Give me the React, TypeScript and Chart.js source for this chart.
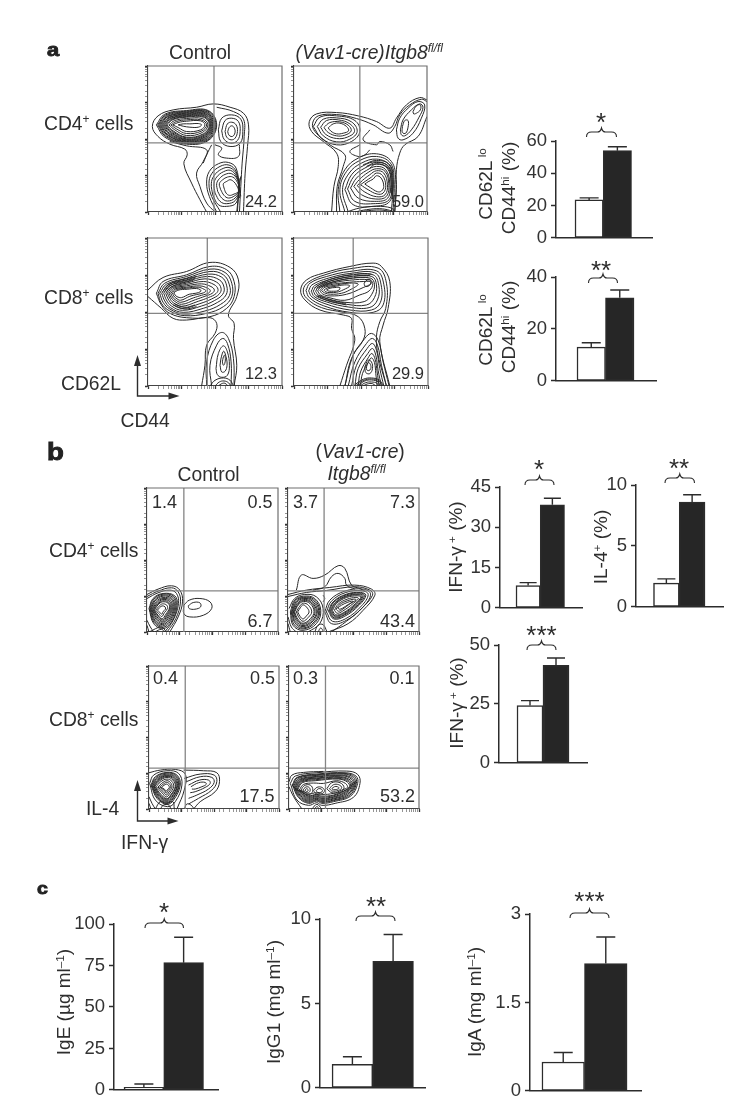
import React, { useEffect, useRef } from "react";
import { Chart, registerables } from "chart.js";

Chart.register(...registerables);
Chart.defaults.font.family = "'Liberation Sans', Arial, sans-serif";

const FONT = "'Liberation Sans', Arial, sans-serif";

// ---- bar values (upper whisker given as the value read at the cap) ----
const groups = ["Control", "(Vav1-cre)Itgb8fl/fl"];
const a1Ticks = [0, 20, 40, 60];
const a1Values = [23.5, 54];
const a1Caps = [24.8, 56.4];
const a2Ticks = [0, 20, 40];
const a2Values = [13, 32];
const a2Caps = [14.7, 35];
const b1Ticks = [0, 15, 30, 45];
const b1Values = [8.3, 38.4];
const b1Caps = [9.4, 40.8];
const b2Ticks = [0, 5, 10];
const b2Values = [1.95, 8.6];
const b2Caps = [2.3, 9.2];
const b3Ticks = [0, 25, 50];
const b3Values = [24.3, 41.4];
const b3Caps = [26.4, 44.5];
const c1Ticks = [0, 25, 50, 75, 100];
const c1Values = [1.5, 76.7];
const c1Caps = [3.6, 92];
const c2Ticks = [0, 5, 10];
const c2Values = [1.4, 7.5];
const c2Caps = [1.84, 9.08];
const c3Ticks = [0, 1.5, 3];
const c3Values = [0.49, 2.16];
const c3Caps = [0.65, 2.61];

const a1Contours = [
  [530,547,510,510,485,460,462,402,472,375,465,358,420,343,385,320,368,290,385,258,430,240,500,232,550,222,600,232,640,250,655,285,652,350,645,430,640,547],
  [555,547,530,520,510,470,500,430,520,395,530,360,470,348,420,335],
  [560,232,610,245,640,268,642,320,636,400,632,470,628,547],
  [380,285,405,253,470,242,535,242,560,285,535,332,470,343,405,322,380,285],
  [384,285,408,255,470,244,534,244,558,285,534,330,470,341,408,320,384,285],
  [387,285,410,257,470,246,532,246,555,285,532,328,470,339,410,318,387,285],
  [390,285,413,259,470,248,530,248,552,285,530,326,470,337,413,316,390,285],
  [393,285,415,260,470,250,529,250,550,285,529,324,470,335,415,315,393,285],
  [396,285,418,262,470,252,527,252,548,285,527,322,470,333,418,313,396,285],
  [399,285,420,263,470,254,526,254,546,285,526,320,470,331,420,311,399,285],
  [402,285,423,265,470,256,524,256,544,285,524,318,470,329,423,309,402,285],
  [405,285,425,266,470,258,523,258,542,285,523,316,470,327,425,307,405,285],
  [408,285,428,268,470,260,521,260,540,285,521,314,470,324,428,305,408,285],
  [411,285,430,269,470,262,520,262,538,285,520,312,470,322,430,303,411,285],
  [417,285,435,272,470,266,517,266,534,285,517,308,470,317,435,300,417,285],
  [423,285,440,275,470,270,514,270,530,285,514,304,470,311,440,297,423,285],
  [429,285,445,278,470,274,512,273,525,285,512,300,470,305,445,293,429,285],
  [445,285,460,282,480,282,505,281,515,285,505,292,480,292,460,289,445,285],
  [565,300,575,265,605,255,632,268,638,305,630,340,600,350,572,335,565,300],
  [575,303,585,272,605,265,625,275,630,305,622,332,602,340,582,328,575,303],
  [585,305,592,282,605,277,618,285,622,305,615,325,603,330,590,322,585,305],
  [593,305,598,292,606,288,613,295,615,307,610,318,603,320,596,315,593,305],
  [628,345,625,380,590,385,565,375,575,355,555,345],
  [545,345,530,375,520,400],
  [560,547,538,500,530,460,538,425,565,402,595,398,618,415,625,470,622,547],
  [572,547,545,500,537,462,545,432,570,410,597,406,618,425,626,470,620,547],
  [548,495,544,462,552,438,575,418,600,414,620,435,627,475,618,520,590,530,565,525,548,495],
  [555,490,552,462,560,442,580,426,602,422,620,442,628,478,616,512,590,522,570,515,555,490],
  [563,485,560,462,568,447,585,434,605,432,622,450,628,480,615,505,592,514,575,505,563,485],
  [572,480,568,462,578,450,592,442,608,442,622,458,628,482,614,498,595,505,582,497,572,480],
  [582,475,580,462,590,455,600,450,610,455,620,468,625,485,612,493,598,497,588,490,582,475],
  [632,440,628,470,632,500],
  [630,445,625,470,628,505],
];
const a2Contours = [
  [905,547,912,470,925,410,920,370,880,335,845,305,838,275,860,252,920,248,985,258,1040,275,1080,295,1100,265,1130,225,1170,203,1192,210],
  [1192,260,1165,320,1125,345,1110,370,1100,420,1100,480,1095,547],
  [920,547,922,470,940,410,945,375,900,345,855,305,848,280,865,258,920,254,980,266,1030,285,1075,310,1095,290,1110,255,1140,225,1175,208,1192,215],
  [1100,300,1110,265,1135,235,1165,215,1185,225,1175,265,1150,310,1120,330,1105,325,1100,300],
  [1112,300,1120,270,1145,240,1170,222,1180,232,1168,262,1145,300,1125,318,1115,315,1112,300],
  [1150,245,1160,228,1172,225,1172,240,1160,250,1152,252,1150,245],
  [1118,290,1125,272,1135,272,1135,292,1128,310,1118,308,1118,290],
  [850,290,870,262,920,258,975,272,990,305,965,335,920,345,875,325,850,290],
  [862,290,880,268,920,264,965,276,982,305,960,328,920,336,880,318,862,290],
  [872,292,890,272,925,270,960,282,974,305,952,322,920,326,888,314,872,292],
  [882,293,900,278,930,276,955,286,964,303,945,316,920,318,895,308,882,293],
  [895,294,910,282,930,280,950,290,956,303,940,310,920,312,903,304,895,294],
  [930,547,925,480,945,420,985,385,1040,372,1085,395,1098,450,1095,547],
  [945,547,930,480,950,425,990,392,1040,380,1082,400,1093,450,1090,547],
  [955,547,938,480,958,430,995,400,1040,388,1078,405,1090,450,1085,547],
  [1000,405,1040,392,1080,405,1090,450,1087,500],
  [1010,410,1040,398,1077,410,1087,450,1085,495],
  [1020,415,1040,402,1075,415,1084,455,1081,490],
  [945,480,965,435,1000,408,1040,396,1075,410,1087,455,1080,515,1030,530,970,525,945,480],
  [953,478,972,440,1005,415,1040,403,1072,415,1084,458,1078,510,1030,522,975,515,953,478],
  [962,475,980,445,1010,422,1040,410,1068,420,1080,460,1074,505,1035,515,985,505,962,475],
  [972,470,988,450,1015,428,1040,417,1066,425,1077,462,1070,500,1038,508,995,495,972,470],
  [982,468,998,452,1020,435,1040,423,1062,430,1073,465,1066,495,1040,501,1005,487,982,468],
  [992,465,1006,455,1025,442,1040,430,1058,437,1068,468,1060,490,1042,493,1015,480,992,465],
  [1005,463,1015,456,1030,448,1040,438,1054,445,1062,470,1055,484,1043,486,1022,474,1005,463],
  [950,547,990,535,1040,530,1085,535,1095,547],
  [975,547,1010,540,1050,537,1080,542,1090,547],
  [985,547,1015,543,1050,541,1075,544,1085,547],
  [990,345,960,365,985,380,1005,375,1020,360],
  [1020,300,1000,330,1040,345,1050,335,1080,345,1090,365],
];
const a3Contours = [
  [612,482,620,420,610,340,612,295,595,270,620,215,625,165,600,128,540,113,470,140,400,158,355,195],
  [355,215,395,250,430,280,470,285,540,278,560,295,555,325,530,360,525,420,515,482],
  [380,205,400,170,470,150,540,125,590,135,612,170,612,215,590,250,540,275,470,278,420,265,395,240,380,205],
  [385,205,405,175,470,155,540,133,585,143,605,175,605,215,580,245,530,265,465,272,420,258,395,235,385,205],
  [390,205,410,178,470,160,540,140,580,150,598,180,598,212,572,238,525,258,460,267,420,252,400,232,390,205],
  [396,205,415,180,470,165,535,148,575,157,590,183,588,210,563,232,520,250,460,262,422,248,405,228,396,205],
  [402,205,418,183,470,170,530,155,568,165,582,187,578,208,553,227,515,243,458,256,425,243,410,225,402,205],
  [408,205,424,186,470,175,525,162,560,172,573,190,568,207,545,222,510,236,458,250,428,238,415,222,408,205],
  [413,205,428,188,470,179,520,170,552,179,564,193,558,206,535,218,505,229,455,244,430,233,420,220,413,205],
  [418,205,432,190,470,183,515,177,543,185,553,195,547,205,525,214,497,224,455,238,433,228,424,218,418,205],
  [423,205,436,192,470,187,510,183,533,190,541,197,535,205,515,211,490,219,453,232,436,224,428,216,423,205],
  [428,204,440,194,470,190,505,187,522,193,528,198,520,204,500,209,480,214,452,226,438,219,432,213,428,204],
  [432,204,444,196,472,193,500,191,512,195,512,200,498,205,478,208,455,218,441,215,436,210,432,204],
  [399,200,420,177,468,162,500,155],
  [405,200,425,180,468,167,495,161],
  [410,200,430,183,468,172,490,167],
  [430,240,465,252,500,245],
  [433,236,465,247,495,240],
  [530,482,530,410,550,345,575,322,595,340,610,400,612,482],
  [545,482,540,420,560,360,578,340,592,355,603,410,603,482],
  [558,430,565,385,580,362,592,380,598,420,592,450,575,456,562,448,558,430],
  [570,420,574,395,581,378,588,395,591,420,585,438,575,440,570,420],
  [577,410,580,395,583,390,586,400,584,415,580,420,577,410],
  [540,482,555,465,580,458,600,465,610,482],
  [555,482,568,470,582,467,595,472,602,482],
  [565,482,575,475,585,474,594,482],
];
const a4Contours = [
  [1080,482,1050,350,1060,300,1075,250,1080,170,1055,125,1030,115,960,125,880,145,830,165,812,195,825,225,870,255,940,270,965,280,965,310,975,345,950,420,930,482],
  [1070,482,1045,390,1040,335,1050,290,1068,250,1070,175,1045,130,960,132,885,150,835,172,820,195,830,220,875,248,940,262,985,275,1005,310,1000,345,970,390,945,482],
  [828,197,840,175,890,155,960,140,1040,138,1062,178,1060,240,1030,262,960,262,880,242,838,218,828,197],
  [836,198,846,180,895,160,960,146,1035,144,1054,180,1052,232,1025,255,960,255,885,236,846,216,836,198],
  [844,199,854,182,900,164,960,151,1030,150,1047,182,1043,225,1018,248,955,246,890,231,853,215,844,199],
  [850,199,860,184,902,168,960,156,1026,155,1040,180,1034,218,1010,240,950,238,893,226,860,214,850,199],
  [857,199,866,186,905,172,960,161,1022,160,1034,178,1026,208,1003,230,945,232,895,222,866,212,857,199],
  [863,198,872,187,907,175,960,166,1018,165,1029,176,1018,198,990,210,945,226,897,218,872,210,863,198],
  [870,197,880,186,910,178,960,172,1000,170,1020,170,1024,176,1000,188,950,208,900,213,878,207,870,197],
  [875,197,885,187,910,182,955,175,985,178,960,195,935,205,902,208,884,204,875,197],
  [882,196,892,189,912,185,945,180,960,183,940,195,920,202,900,203,888,201,882,196],
  [890,195,900,190,915,188,930,188,925,197,905,199,895,198,890,195],
  [1003,175,1012,165,1022,165,1022,178,1012,185,1005,183,1003,175],
  [853,190,880,172,920,158,980,148,1025,148],
  [860,190,885,175,925,162,980,153,1020,152],
  [866,190,890,178,930,166,980,158,1015,157],
  [860,212,895,228,950,240],
  [866,210,897,224,948,235],
  [945,482,965,400,1005,340,1025,325,1045,345,1060,410,1078,482],
  [955,482,975,410,1010,355,1028,340,1043,360,1055,420,1070,482],
  [965,482,980,420,1012,370,1028,355,1040,375,1050,430,1062,482],
  [975,482,985,430,1014,385,1028,370,1038,390,1045,435,1055,482],
  [985,482,992,440,1015,398,1026,385,1036,402,1042,440,1048,482],
  [992,482,998,445,1016,410,1025,398,1034,412,1038,445,1042,482],
  [1005,425,1015,405,1025,410,1028,430,1020,445,1008,442,1005,425],
  [1010,425,1016,412,1022,418,1023,430,1017,436,1011,434,1010,425],
  [975,478,1000,462,1025,458,1050,465,1060,482],
  [980,479,1002,465,1025,461,1048,467,1055,482],
  [985,480,1005,467,1025,464,1045,470,1050,482],
  [990,482,1008,472,1025,470,1042,474,1045,482],
  [1000,482,1012,476,1028,475,1038,482],
];
const b1Contours = [
  [352,478,385,462,425,452,450,465,458,500,445,545,420,590],
  [352,484,385,468,425,458,445,470,452,500,438,550,412,590],
  [352,490,385,473,420,465,440,475,446,505,430,555,405,590],
  [358,520,370,490,400,475,435,482,442,510,425,560,400,580,372,565,358,520],
  [360,521,372,492,400,477,432,484,439,511,422,558,399,576,373,561,360,521],
  [362,522,374,495,400,480,430,487,436,512,420,555,398,572,375,558,362,522],
  [364,522,376,497,400,483,427,490,433,513,418,552,398,568,376,555,364,522],
  [366,523,378,500,400,487,425,493,430,514,416,548,398,565,378,551,366,523],
  [368,523,380,503,400,490,422,496,427,515,414,545,398,561,380,548,368,523],
  [370,524,382,505,400,493,420,499,424,516,412,542,398,558,382,545,370,524],
  [372,524,384,507,399,497,417,501,421,517,410,540,398,554,384,542,372,524],
  [374,525,385,509,398,500,415,504,419,518,408,537,397,551,385,540,374,525],
  [378,525,388,513,398,506,411,510,413,520,404,532,396,544,387,535,378,525],
  [383,525,390,517,397,512,406,515,407,522,400,529,396,537,390,531,383,525],
  [352,555,362,575,372,590],
  [358,590,395,575,410,590],
  [375,590,395,582,405,590],
  [352,570,358,590],
  [462,510,478,495,510,490,540,500,545,520,520,540,480,545,462,535,462,510],
  [475,512,490,502,510,503,512,515,495,522,478,520,475,512],
];
const b2Contours = [
  [800,465,815,420,850,430,885,420,925,392,945,400,965,450,990,460,1005,468],
  [850,465,885,455,905,425,925,415,945,430,950,450,975,462],
  [775,478,830,465,900,457,975,450,1025,462,1035,480,1000,525,955,565,895,590],
  [775,484,830,472,890,466,975,455,1020,465,1028,480,995,520,950,558,905,590],
  [885,530,900,495,945,468,1000,462,1022,477,1000,515,950,555,905,565,885,530],
  [890,530,905,498,948,472,997,467,1015,478,995,512,948,550,908,558,890,530],
  [896,528,910,500,950,477,992,472,1008,480,988,510,945,543,912,551,896,528],
  [899,527,912,501,950,479,990,474,1004,481,985,509,943,540,913,548,899,527],
  [902,527,915,503,950,482,988,477,1000,482,982,508,942,538,915,545,902,527],
  [905,526,917,504,950,484,985,479,996,484,979,507,941,535,916,542,905,526],
  [908,526,920,505,950,487,983,482,993,486,976,506,940,533,918,539,908,526],
  [914,525,925,507,952,492,978,487,986,490,970,505,938,528,922,534,914,525],
  [919,522,930,508,952,497,972,492,979,494,963,504,937,523,926,528,919,522],
  [924,518,935,510,952,502,965,498,970,499,955,508,938,519,929,522,924,518],
  [778,520,795,490,825,478,860,485,880,520,870,565,835,590],
  [782,530,795,495,822,483,855,490,873,525,860,565,820,585,790,570,782,530],
  [785,530,797,497,822,486,852,492,870,526,856,562,820,581,792,566,785,530],
  [787,530,799,500,822,488,850,495,867,527,853,560,820,578,795,562,787,530],
  [789,530,801,502,822,490,847,497,863,527,850,557,820,574,797,559,789,530],
  [791,530,803,505,822,493,845,500,860,528,848,555,820,571,800,556,791,530],
  [793,530,805,507,821,496,843,502,856,528,845,552,820,567,802,553,793,530],
  [795,530,806,509,821,499,841,505,853,529,842,550,820,564,804,551,795,530],
  [800,530,810,513,821,504,836,510,846,530,836,546,820,558,808,547,800,530],
  [804,530,813,516,820,509,830,515,838,530,830,542,820,551,811,543,804,530],
  [775,545,785,575,800,590],
  [775,565,782,590],
  [855,590,865,570,880,568,892,590],
  [865,590,873,578,882,590],
  [880,500,885,490,880,480],
];
const b3Contours = [
  [266,368,300,360,345,358,375,372,372,420,350,477],
  [370,360,430,362,470,368,478,395,465,425,420,455,400,477],
  [372,385,420,372,462,375,470,395,455,420,415,445,385,462],
  [378,395,420,380,455,382,462,397,445,417,410,435,385,445],
  [385,405,418,390,445,390,450,400,435,412,405,425,390,428],
  [392,410,415,398,435,397,438,403,425,410,405,417,395,417],
  [372,477,380,462,392,465,402,477],
  [268,400,280,375,320,362,355,370,365,405,345,455,322,470,285,450,268,400],
  [272,405,285,380,320,367,350,375,360,405,340,450,320,463,290,445,272,405],
  [274,406,287,382,320,369,348,377,357,405,338,447,320,460,292,443,274,406],
  [276,407,289,385,320,372,346,380,355,406,337,445,320,457,294,441,276,407],
  [278,407,291,387,320,375,344,382,352,407,335,442,320,454,296,439,278,407],
  [280,408,293,389,320,377,342,385,350,408,334,440,319,451,298,437,280,408],
  [282,408,295,391,320,379,340,387,347,408,332,437,319,448,300,435,282,408],
  [284,409,297,393,320,382,338,390,345,409,331,435,319,446,302,433,284,409],
  [288,410,300,396,320,387,335,394,340,410,328,431,318,441,306,429,288,410],
  [293,411,304,400,320,392,331,398,335,411,326,426,318,435,309,425,293,411],
  [298,411,308,403,319,397,328,402,331,412,324,421,318,429,312,421,298,411],
  [303,412,311,406,318,402,325,406,327,413,322,418,317,424,313,418,303,412],
  [285,477,300,455,318,460,338,455,342,477],
  [266,440,275,460,285,477],
  [300,477,310,465,325,465,332,477],
  [266,460,272,477],
];
const b4Contours = [
  [690,400,705,378,770,368,860,363,893,373,900,400,880,442,825,460,785,466,770,458,745,466,710,450,690,400],
  [696,405,710,382,770,372,855,368,888,378,893,400,872,438,820,455,785,460,770,453,745,460,715,443,696,405],
  [698,406,712,383,770,374,852,370,884,380,889,401,869,436,820,452,785,457,770,450,745,457,716,440,698,406],
  [700,408,715,385,770,376,850,372,880,382,886,402,866,434,820,450,785,455,770,448,745,454,718,438,700,408],
  [702,410,717,388,770,379,847,375,877,385,883,404,863,432,820,447,785,452,770,445,745,451,720,436,702,410],
  [704,412,718,390,770,381,845,377,874,387,880,405,860,430,820,445,785,449,770,443,745,448,722,434,704,412],
  [706,414,720,392,769,384,842,380,871,390,877,406,857,428,820,442,785,446,770,440,745,445,724,432,706,414],
  [708,416,722,394,768,386,840,382,868,392,874,408,855,426,820,440,785,444,770,438,745,442,726,431,708,416],
  [710,418,724,396,766,389,837,385,865,394,871,409,852,424,820,437,785,441,770,435,745,439,728,429,710,418],
  [712,419,726,398,765,392,835,387,862,396,868,410,850,423,820,435,785,438,770,433,745,437,730,428,712,419],
  [717,420,730,403,760,399,790,400,830,392,856,400,862,412,845,420,820,430,785,433,770,428,745,432,733,426,717,420],
  [722,420,732,407,750,405,758,420,750,432,732,431,722,420],
  [728,420,735,412,745,411,750,420,745,428,734,427,728,420],
  [734,420,739,416,743,418,743,423,738,425,734,420],
  [760,422,770,412,785,412,793,422,785,431,768,431,760,422],
  [768,422,775,416,783,417,787,423,782,427,772,427,768,422],
  [800,416,815,398,840,398,852,413,840,426,815,428,800,416],
  [808,416,820,404,836,404,845,413,835,421,816,423,808,416],
  [815,416,823,410,832,410,837,414,830,418,820,419,815,416],
  [755,477,770,463,785,477],
  [762,477,770,470,778,477],
  [686,410,700,440,725,477],
  [686,395,695,375,730,367,790,364],
];

// ---- cytometry panels: read-off range, quadrant gate, placement ----
const panels = [
  { contours: a1Contours, ox: 30, oy: 30, x: [355, 755], y: [108, 547], gate: [552, 339] },
  { contours: a2Contours, ox: 30, oy: 30, x: [792, 1192], y: [108, 547], gate: [990, 339] },
  { contours: a3Contours, ox: 30, oy: 225, x: [355, 755], y: [40, 482], gate: [532, 265] },
  { contours: a4Contours, ox: 30, oy: 225, x: [792, 1195], y: [40, 482], gate: [970, 265] },
  { contours: b1Contours, ox: 30, oy: 435, x: [352, 743], y: [160, 590], gate: [462, 467] },
  { contours: b2Contours, ox: 30, oy: 435, x: [775, 1167], y: [160, 590], gate: [883, 467] },
  { contours: b3Contours, ox: 60, oy: 650, x: [266, 657], y: [47, 477], gate: [375, 354] },
  { contours: b4Contours, ox: 60, oy: 650, x: [686, 1078], y: [47, 477], gate: [796, 354] },
];

const bars = [
  { ticks: a1Ticks, values: a1Values, caps: a1Caps, axisX: 556, right: 652, y0: 239, yTop: 141, b: [575, 631.5], cap: 19, brace: [586.5, 616.5, 132], stars: "*", starX: 601, starY: 118 },
  { ticks: a2Ticks, values: a2Values, caps: a2Caps, axisX: 556, right: 656, y0: 382, yTop: 277, b: [577, 634], cap: 19, brace: [588.5, 617.5, 278], stars: "**", starX: 601, starY: 266 },
  { ticks: b1Ticks, values: b1Values, caps: b1Caps, axisX: 500, right: 582, y0: 609, yTop: 487, b: [516, 564.5], cap: 17, brace: [525, 554, 480], stars: "*", starX: 539, starY: 465 },
  { ticks: b2Ticks, values: b2Values, caps: b2Caps, axisX: 636, right: 723, y0: 608, yTop: 484.5, b: [653.5, 705], cap: 18, brace: [665, 694.5, 478], stars: "**", starX: 679, starY: 464 },
  { ticks: b3Ticks, values: b3Values, caps: b3Caps, axisX: 499, right: 587, y0: 763.5, yTop: 645, b: [517, 569], cap: 18, brace: [527, 556, 645], stars: "***", starX: 541.5, starY: 631 },
  { ticks: c1Ticks, values: c1Values, caps: c1Caps, axisX: 113.5, right: 217.5, y0: 1091, yTop: 923.5, b: [123.5, 203], cap: 19, brace: [145, 183.5, 923], stars: "*", starX: 164, starY: 908 },
  { ticks: c2Ticks, values: c2Values, caps: c2Caps, axisX: 320, right: 424.5, y0: 1089, yTop: 918.5, b: [332, 413], cap: 19, brace: [356, 395, 916], stars: "**", starX: 376, starY: 902 },
  { ticks: c3Ticks, values: c3Values, caps: c3Caps, axisX: 529.5, right: 641, y0: 1091.5, yTop: 913.5, b: [541.5, 627], cap: 19, brace: [570, 609, 913], stars: "***", starX: 589.5, starY: 897 },
];

const toPoints = (flat: number[]) => {
  const pts: { x: number; y: number }[] = [];
  for (let i = 0; i + 1 < flat.length; i += 2) pts.push({ x: flat[i], y: flat[i + 1] });
  return pts;
};

function FlowPanel({ p }: { p: (typeof panels)[number] }) {
  const ref = useRef<HTMLCanvasElement>(null);
  const m = 8;
  const l = Math.round(p.ox + p.x[0] / 3);
  const r = Math.round(p.ox + p.x[1] / 3);
  const t = Math.round(p.oy + p.y[0] / 3);
  const b = Math.round(p.oy + p.y[1] / 3);
  const w = r - l + 2 * m;
  const h = b - t + 2 * m;
  useEffect(() => {
    const line = { showLine: true, pointRadius: 0, fill: false, xAxisID: "xc", yAxisID: "yc" };
    const datasets: any[] = [
      { ...line, data: [{ x: p.gate[0], y: p.y[0] }, { x: p.gate[0], y: p.y[1] }], borderColor: "#858585", borderWidth: 1.3, tension: 0 },
      { ...line, data: [{ x: p.x[0], y: p.gate[1] }, { x: p.x[1], y: p.gate[1] }], borderColor: "#858585", borderWidth: 1.3, tension: 0 },
      ...p.contours.map((c) => ({ ...line, data: toPoints(c), borderColor: "#282828", borderWidth: 1, tension: 0.4 })),
    ];
    const logAxis = (axis: "x" | "y", position: string, size: string) => ({
      type: "logarithmic",
      axis,
      position,
      min: 1,
      max: 10000,
      afterFit: (s: any) => { s[size] = m; },
      ticks: { display: false, autoSkip: false },
      grid: {
        drawOnChartArea: false,
        drawTicks: true,
        tickLength: 3,
        tickColor: (c: any) => (c.tick && c.tick.major ? "#333" : "#666"),
        tickWidth: (c: any) => (c.tick && c.tick.major ? 1.3 : 0.7),
      },
      border: { color: "#444", width: 1.1 },
    });
    const frame = {
      id: "frame",
      afterDraw(chart: any) {
        const { ctx, chartArea: a } = chart;
        ctx.save();
        ctx.strokeStyle = "#6f6f6f";
        ctx.lineWidth = 1.2;
        ctx.beginPath();
        ctx.moveTo(a.left, a.top);
        ctx.lineTo(a.right, a.top);
        ctx.lineTo(a.right, a.bottom);
        ctx.stroke();
        ctx.restore();
      },
    };
    const chart = new Chart(ref.current!, {
      type: "scatter",
      data: { datasets },
      plugins: [frame],
      options: {
        animation: false,
        responsive: false,
        devicePixelRatio: 1,
        layout: { padding: { left: 0, right: m, top: m, bottom: 0 } },
        plugins: { legend: { display: false }, tooltip: { enabled: false } },
        events: [],
        scales: {
          x: logAxis("x", "bottom", "height"),
          y: logAxis("y", "left", "width"),
          xc: { type: "linear", axis: "x", display: false, min: p.x[0], max: p.x[1] },
          yc: { type: "linear", axis: "y", display: false, reverse: true, min: p.y[0], max: p.y[1] },
        },
      } as any,
    } as any);
    return () => chart.destroy();
  }, []);
  return <canvas ref={ref} width={w} height={h} style={{ position: "absolute", left: l - m, top: t - m }} />;
}

function BarPanel({ c }: { c: (typeof bars)[number] }) {
  const ref = useRef<HTMLCanvasElement>(null);
  const leftW = 50;
  const topH = 50;
  const botH = 14;
  const padR = 4;
  const cl = Math.round(c.axisX) - leftW;
  const ct = Math.round(c.yTop) - topH;
  const plotW = Math.round(c.right) - Math.round(c.axisX);
  const plotH = Math.round(c.y0) - Math.round(c.yTop);
  const w = leftW + plotW + padR;
  const h = topH + plotH + botH;
  useEffect(() => {
    const unit = (c.b[1] - c.b[0]) / 2;
    const xMin = 0.5 - (c.b[0] - c.axisX) / unit;
    const xMax = 2.5 + (c.right - c.b[1]) / unit;
    const yMax = c.ticks[c.ticks.length - 1];
    const notes = {
      id: "notes",
      afterDatasetsDraw(chart: any) {
        const { ctx, scales } = chart;
        ctx.save();
        ctx.strokeStyle = "#2c2c2c";
        ctx.fillStyle = "#2c2c2c";
        ctx.lineWidth = 1.4;
        // error whiskers
        c.values.forEach((v, i) => {
          const x = scales.x.getPixelForValue(i + 1);
          const y1 = scales.y.getPixelForValue(v);
          const y2 = scales.y.getPixelForValue(c.caps[i]);
          ctx.beginPath();
          ctx.moveTo(x, y1);
          ctx.lineTo(x, y2);
          ctx.moveTo(x - c.cap / 2, y2);
          ctx.lineTo(x + c.cap / 2, y2);
          ctx.stroke();
        });
        // brace
        const xl = c.brace[0] - cl;
        const xr = c.brace[1] - cl;
        const yb = c.brace[2] - ct;
        const mid = (xl + xr) / 2;
        ctx.lineWidth = 1.1;
        ctx.beginPath();
        ctx.moveTo(xl, yb + 5);
        ctx.quadraticCurveTo(xl, yb, xl + 5, yb);
        ctx.lineTo(mid - 4, yb);
        ctx.quadraticCurveTo(mid - 1, yb, mid, yb - 4);
        ctx.quadraticCurveTo(mid + 1, yb, mid + 4, yb);
        ctx.lineTo(xr - 5, yb);
        ctx.quadraticCurveTo(xr, yb, xr, yb + 5);
        ctx.stroke();
        // significance stars
        ctx.font = `26px ${FONT}`;
        ctx.textAlign = "center";
        ctx.textBaseline = "alphabetic";
        ctx.fillText(c.stars, c.starX - cl, c.starY - ct + 13);
        ctx.restore();
      },
    };
    const chart = new Chart(ref.current!, {
      type: "bar",
      data: {
        labels: groups,
        datasets: [
          {
            data: c.values.map((v, i) => ({ x: i + 1, y: v })),
            backgroundColor: ["#ffffff", "#262626"],
            borderColor: "#2c2c2c",
            borderWidth: 1.5,
            borderSkipped: false,
            barPercentage: 1,
            categoryPercentage: 1,
          },
        ],
      },
      plugins: [notes],
      options: {
        animation: false,
        responsive: false,
        devicePixelRatio: 1,
        events: [],
        layout: { padding: { left: 0, right: padR, top: topH, bottom: 0 } },
        plugins: { legend: { display: false }, tooltip: { enabled: false } },
        scales: {
          x: {
            type: "linear",
            min: xMin,
            max: xMax,
            offset: false,
            afterFit: (s: any) => { s.height = botH; },
            ticks: { display: false },
            grid: { display: false, offset: false },
            border: { color: "#2c2c2c", width: 1.5 },
          },
          y: {
            min: 0,
            max: yMax,
            afterFit: (s: any) => { s.width = leftW; },
            afterBuildTicks: (s: any) => { s.ticks = c.ticks.map((value) => ({ value })); },
            ticks: {
              color: "#333",
              font: { size: 18.5 },
              padding: 4,
              autoSkip: false,
              maxRotation: 0,
              callback: (v: any) => String(v),
            },
            grid: { drawOnChartArea: false, drawTicks: true, tickLength: 5, tickColor: "#2c2c2c", tickWidth: 1.5 },
            border: { color: "#2c2c2c", width: 1.5 },
          },
        },
      } as any,
    } as any);
    return () => chart.destroy();
  }, []);
  return <canvas ref={ref} width={w} height={h} style={{ position: "absolute", left: cl, top: ct }} />;
}

const Sup = ({ children }: { children: React.ReactNode }) => (
  <span style={{ fontSize: "0.62em", position: "relative", top: "-0.55em", lineHeight: 0 }}>{children}</span>
);

function T({ x, base, size = 19.3, right, children, style }: any) {
  const s: React.CSSProperties = {
    position: "absolute",
    top: base - 0.8465 * size,
    fontSize: size,
    lineHeight: `${size}px`,
    whiteSpace: "nowrap",
    color: "#2e2e2e",
    fontFamily: FONT,
    ...style,
  };
  if (right !== undefined) s.right = 750 - right;
  else s.left = x;
  return <div style={s}>{children}</div>;
}

function R({ cx, cy, size = 19, children }: any) {
  return (
    <div
      style={{
        position: "absolute",
        left: cx,
        top: cy,
        fontSize: size,
        lineHeight: `${size}px`,
        whiteSpace: "nowrap",
        color: "#2e2e2e",
        fontFamily: FONT,
        transform: "translate(-50%,-50%) rotate(-90deg)",
      }}
    >
      {children}
    </div>
  );
}

const Letter = ({ x, base, size, children }: any) => (
  <T x={x} base={base} size={size} style={{ fontWeight: 700, WebkitTextStroke: "0.9px #222", color: "#222", transform: "scaleX(1.15)", transformOrigin: "left center" }}>
    {children}
  </T>
);

const Arrow = ({ x, top, bottom, right }: any) => (
  <g fill="#2c2c2c" stroke="none">
    <path d={`M${x} ${top + 8} V${bottom} H${right - 8}`} fill="none" stroke="#2c2c2c" strokeWidth={1.4} />
    <path d={`M${x} ${top} L${x - 3.5} ${top + 11} H${x + 3.5} Z`} />
    <path d={`M${right} ${bottom} L${right - 11} ${bottom - 3.5} V${bottom + 3.5} Z`} />
  </g>
);

export default function App() {
  return (
    <div style={{ position: "absolute", left: 0, top: 0, width: 750, height: 1112, background: "#fff", overflow: "hidden" }}>
      {panels.map((p, i) => <FlowPanel key={i} p={p} />)}
      {bars.map((c, i) => <BarPanel key={i} c={c} />)}

      <svg width={750} height={1112} style={{ position: "absolute", left: 0, top: 0, pointerEvents: "none" }}>
        <Arrow x={137.5} top={355} bottom={396} right={179.5} />
        <Arrow x={137.5} top={780} bottom={821} right={178.5} />
      </svg>

      <Letter x={47} base={56} size={19}>a</Letter>
      <Letter x={47} base={460} size={24}>b</Letter>
      <Letter x={37} base={894} size={17}>c</Letter>

      <T x={169} base={59}>Control</T>
      <T x={295.5} base={59}><i>(Vav1-cre)Itgb8<Sup>fl/fl</Sup></i></T>
      <T x={44} base={130}>CD4<Sup>+</Sup> cells</T>
      <T x={44} base={304}>CD8<Sup>+</Sup> cells</T>
      <T x={61} base={390}>CD62L</T>
      <T x={120.5} base={427}>CD44</T>
      <T right={277} base={207} size={16.5}>24.2</T>
      <T right={424} base={207} size={16.5}>59.0</T>
      <T right={277} base={378.5} size={16.5}>12.3</T>
      <T right={424} base={378.5} size={16.5}>29.9</T>

      <T x={177.5} base={481}>Control</T>
      <T x={315.5} base={458}>(<i>Vav1-cre</i>)</T>
      <T x={327.5} base={480}><i>Itgb8<Sup>fl/fl</Sup></i></T>
      <T x={49} base={557}>CD4<Sup>+</Sup> cells</T>
      <T x={49} base={726}>CD8<Sup>+</Sup> cells</T>
      <T x={86} base={815}>IL-4</T>
      <T x={121} base={849}>IFN-γ</T>

      <T x={152} base={508} size={18}>1.4</T>
      <T right={272.5} base={508} size={18}>0.5</T>
      <T x={293} base={508} size={18}>3.7</T>
      <T right={415} base={508} size={18}>7.3</T>
      <T right={272.5} base={627} size={18}>6.7</T>
      <T right={415} base={627} size={18}>43.4</T>
      <T x={153} base={684} size={18}>0.4</T>
      <T right={275} base={684} size={18}>0.5</T>
      <T x={293} base={684} size={18}>0.3</T>
      <T right={414.5} base={684} size={18}>0.1</T>
      <T right={274.5} base={802} size={18}>17.5</T>
      <T right={415} base={802} size={18}>53.2</T>

      <R cx={485} cy={184}>CD62L<Sup> lo</Sup></R>
      <R cx={508} cy={188}>CD44<Sup>hi</Sup> (%)</R>
      <R cx={485} cy={330}>CD62L<Sup> lo</Sup></R>
      <R cx={508} cy={327}>CD44<Sup>hi</Sup> (%)</R>
      <R cx={455} cy={547}>IFN-γ<Sup> +</Sup> (%)</R>
      <R cx={600} cy={547}>IL-4<Sup>+</Sup> (%)</R>
      <R cx={455.5} cy={703}>IFN-γ<Sup> +</Sup> (%)</R>
      <R cx={63} cy={1002}>IgE (µg ml<Sup>–1</Sup>)</R>
      <R cx={273} cy={1002}>IgG1 (mg ml<Sup>–1</Sup>)</R>
      <R cx={474} cy={1002}>IgA (mg ml<Sup>–1</Sup>)</R>
    </div>
  );
}
